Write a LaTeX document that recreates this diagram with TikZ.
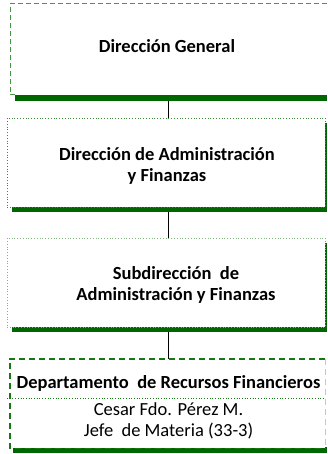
\documentclass[tikz,border=0pt]{standalone}
\usepackage{fontspec}
\setmainfont{Carlito}
\definecolor{shadowgreen}{RGB}{0,102,0}
\definecolor{dashgreen}{RGB}{70,150,70}
\definecolor{dotgreen}{RGB}{60,135,60}
\definecolor{lightdot}{RGB}{130,180,130}
\definecolor{deptgreen}{RGB}{20,120,20}
\definecolor{paleedge}{RGB}{190,205,190}
\tikzset{
  x=1pt, y=1pt,
  boxbase/.style={rectangle, inner sep=0pt, fill=white, minimum width=318pt, minimum height=89pt},
  shadowbox/.style={fill=shadowgreen, draw=none},
  titletext/.style={font=\fontsize{18.5}{21.5}\selectfont\bfseries, align=center, inner sep=0pt},
  bodytext/.style={font=\fontsize{18.5}{20.5}\selectfont, align=center, inner sep=0pt},
  conn/.style={draw=black, line width=1pt},
}
\begin{document}
\begin{tikzpicture}
\useasboundingbox (0,0) rectangle (327,-454);
% shadows
\fill[shadowbox] (15,-95) rectangle (327,-101);
\fill[shadowbox] (12,-123) rectangle (327,-212);
\fill[shadowbox] (12,-243) rectangle (327,-332);
\fill[shadowbox] (13,-447) rectangle (327,-453);
% boxes
\node[boxbase, minimum width=316pt, minimum height=91pt] (b1) at (168,-49.5) {};
\coordinate (b1a) at (327,-4);
\coordinate (b1b) at (10,-4);
\coordinate (b1c) at (10,-95);
\coordinate (b1d) at (15,-95);
\draw[dashgreen, line width=1pt, dash pattern=on 5pt off 3pt] (b1a) -- (b1b) -- (b1c) -- (b1d);
\node[boxbase, draw=dotgreen, line width=0.8pt, dotted] (b2) at (166,-162.5) {};
\node[boxbase, draw=lightdot, line width=0.8pt, dotted] (b3) at (166,-282.5) {};
\node[boxbase, minimum width=315pt] (b4) at (167.5,-403.5) {};
\draw[deptgreen, line width=1.4pt, dash pattern=on 6pt off 4pt] (b4.north east) -- (b4.north west) -- (b4.south west) -- (b4.south east);
\draw[paleedge, line width=1pt, dash pattern=on 6pt off 4pt] (b4.north east) -- (b4.south east);
\coordinate (divl) at (7,-398);
\coordinate (divr) at (325,-398);
\draw[deptgreen, line width=0.7pt, dotted] (divl) -- (divr);
% texts
\node[titletext] (t1) at (167,-46.5) {Dirección General};
\node[titletext] (t2) at (167,-166) {Dirección de Administración\\y Finanzas};
\node[titletext] (t3) at (176,-285) {Subdirección\ \ de\\Administración y Finanzas};
\node[titletext] (t4) at (168.5,-383.5) {Departamento\ \ de Recursos Financieros};
\node[bodytext] (t5) at (168.5,-421) {Cesar Fdo. Pérez M.\\Jefe\ \ de Materia (33-3)};
% connectors
\coordinate (c1) at (168,-101);
\coordinate (c2) at (168,-212);
\coordinate (c3) at (168,-332);
\draw[conn] (c1) -- (c1 |- b2.north);
\draw[conn] (c2) -- (c2 |- b3.north);
\draw[conn] (c3) -- (c3 |- b4.north);
\end{tikzpicture}
\end{document}
